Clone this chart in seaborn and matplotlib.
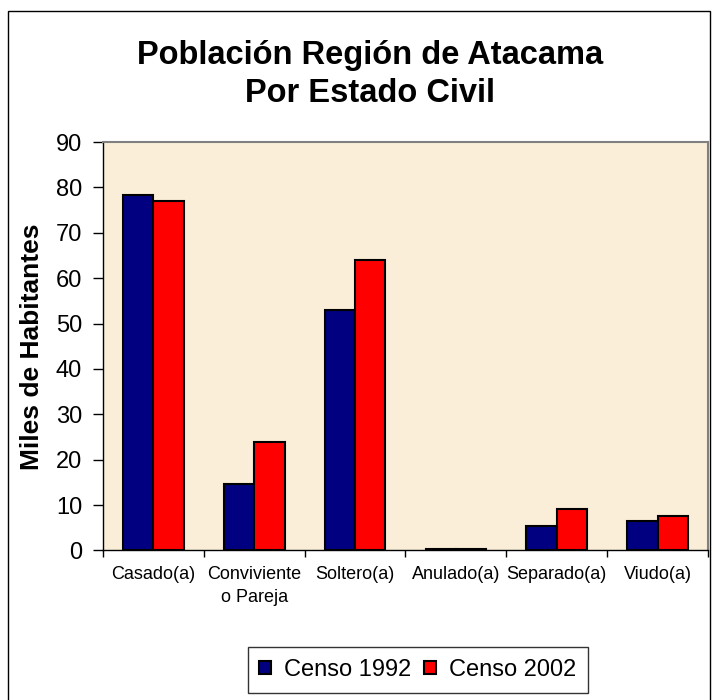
import pandas as pd
import seaborn as sns
from matplotlib import pyplot as plt
from matplotlib.patches import Rectangle
from matplotlib.ticker import FixedLocator

categorias = ["Casado(a)", "Conviviente\no Pareja", "Soltero(a)", "Anulado(a)", "Separado(a)", "Viudo(a)"]
censo_1992 = [78.4, 14.7, 52.9, 0.4, 5.5, 6.6]
censo_2002 = [77.0, 23.9, 64.1, 0.4, 9.2, 7.5]
series = ["Censo 1992", "Censo 2002"]
colores = ["#000080", "#FF0000"]

df = pd.DataFrame({
    "categoria": categorias * 2,
    "valor": censo_1992 + censo_2002,
    "censo": [series[0]] * len(categorias) + [series[1]] * len(categorias),
})

sns.set_style("white")
plt.rcParams['font.family'] = ['Liberation Sans', 'DejaVu Sans']
plt.rcParams['text.color'] = 'black'
plt.rcParams['axes.labelcolor'] = 'black'
plt.rcParams['xtick.color'] = 'black'
plt.rcParams['ytick.color'] = 'black'

fig = plt.figure(figsize=(7.18, 7.0), dpi=100)
ax = fig.add_axes([0.1435, 0.2136, 0.8425, 0.5834])
ax.set_facecolor("#FAEED8")

sns.barplot(data=df, x="categoria", y="valor", hue="censo", palette=colores,
            width=0.6, edgecolor="black", linewidth=1.5, saturation=1, ax=ax)

ax.set_ylim(0, 90)
ax.set_xlim(-0.5, 5.5)
ax.set_yticks(range(0, 91, 10))
ax.tick_params(axis="y", labelsize=17, direction="out", length=7, width=1, left=True, pad=8)
ax.tick_params(axis="x", which="major", labelsize=13, length=0, pad=11)
for lab in ax.get_xticklabels():
    lab.set_linespacing(1.45)
ax.xaxis.set_minor_locator(FixedLocator([i - 0.5 for i in range(7)]))
ax.tick_params(axis="x", which="minor", direction="out", length=5, width=1, bottom=True)
ax.set_xlabel("")
ax.set_ylabel("Miles de Habitantes", fontsize=19, fontweight="bold")
ax.yaxis.set_label_coords(-0.098, 0.5)

for s in ["left", "bottom"]:
    ax.spines[s].set_color("black")
    ax.spines[s].set_linewidth(1)
for s in ["top", "right"]:
    ax.spines[s].set_color("#808080")
    ax.spines[s].set_linewidth(1.5)

fig.text(0.515, 0.893, "Población Región de Atacama\nPor Estado Civil", ha="center", va="center",
         fontsize=23.5, fontweight="bold", linespacing=1.3)

handles, labels = ax.get_legend_handles_labels()
ax.legend_.remove()
leg = fig.legend(handles, labels, loc="center", bbox_to_anchor=(0.582, 0.043), ncol=2,
                 fontsize=17, frameon=True, fancybox=False, edgecolor="black",
                 handlelength=0.5, handleheight=0.5, handletextpad=0.55, columnspacing=0.55,
                 borderpad=0.5, borderaxespad=0)
leg.get_frame().set_linewidth(1)

fig.patches.append(Rectangle((8 / 718, -0.05), 702 / 718, 1.05 - 11 / 700, transform=fig.transFigure,
                             fill=False, edgecolor="black", linewidth=1))

fig.savefig("out.png", dpi=100, facecolor="white")
